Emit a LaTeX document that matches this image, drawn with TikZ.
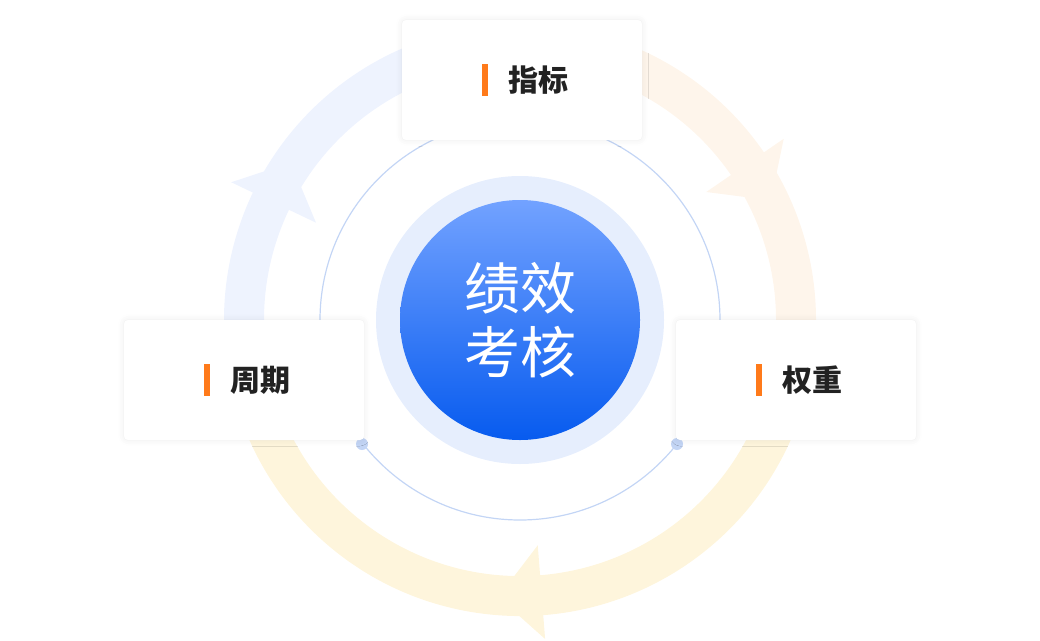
\documentclass[tikz,border=0pt]{standalone}
\usepackage{fontspec}
\setmainfont{Noto Sans CJK SC}
\usetikzlibrary{shadows.blur}
\definecolor{ringblue}{HTML}{EEF3FE}
\definecolor{ringorange}{HTML}{FEF5EB}
\definecolor{ringyellow}{HTML}{FEF5DC}
\definecolor{thinring}{HTML}{C3D5F5}
\definecolor{halo}{HTML}{E6EEFD}
\definecolor{topblue}{HTML}{72A2FF}
\definecolor{botblue}{HTML}{075BEF}
\definecolor{barorange}{HTML}{FF7A1A}
\definecolor{labeltext}{HTML}{222222}
\tikzset{
  labelbox/.style={draw=none, fill=white, rounded corners=4pt, minimum width=240pt, minimum height=120pt,
    blur shadow={shadow xshift=0pt, shadow yshift=0pt, shadow blur radius=6pt, shadow opacity=8}},
  labeltxt/.style={font=\bfseries\fontsize{30pt}{32pt}\selectfont, text=labeltext, inner sep=0pt, anchor=west},
  ringdot/.style={circle, fill=thinring, inner sep=0pt, minimum size=12pt},
}
\begin{document}
\begin{tikzpicture}[x=1pt,y=-1pt]
\useasboundingbox (0,0) rectangle (1040,640);

%l'anneau avec les fleches
\begin{scope}[shift={(520,320)}, yscale=-1]
\def \Rin {256};
\def \Rout {296};
\fill[ringblue] (190:\Rout) arc (190:90:\Rout) -- (90:\Rin) arc (90:190:\Rin) -- cycle;
\fill[ringorange] (90:\Rout) arc (90:-10:\Rout) -- (-10:\Rin) arc (-10:90:\Rin) -- cycle;
\fill[ringyellow] (-10:\Rout) arc (-10:-170:\Rout) -- (-170:\Rin) arc (-170:-10:\Rin) -- cycle;
\foreach \a/\c in {150/ringblue, 30/ringorange, 270/ringyellow}{
  \fill[\c] (\a+4.5:226) -- (\a+4.5:320) -- (\a-4.5:278) -- cycle;
}
\end{scope}

%le cercle fin
\node[circle, draw=thinring, line width=1.2pt, minimum size=400pt, inner sep=0pt] (ring) at (520,320) {};
\node[ringdot] (dotL) at (362,444) {};
\node[ringdot] (dotR) at (677,444) {};

%le centre
\node[circle, fill=halo, minimum size=288pt, inner sep=0pt] (halo) at (520,320) {};
\node[circle, top color=topblue, bottom color=botblue, minimum size=240pt, inner sep=0pt,
  text=white, align=center, font=\fontsize{56pt}{66pt}\selectfont] (core) at (520,320) {绩效\\[-2pt]考核};

%les boites
\node[labelbox] (top) at (522,80) {};
\node[labelbox] (left) at (244,380) {};
\node[labelbox] (right) at (796,380) {};

\foreach \b/\t in {top/指标, left/周期, right/权重}{
  \fill[barorange] ([xshift=-40pt,yshift=-16pt]\b.center) rectangle ([xshift=-34pt,yshift=16pt]\b.center);
  \node[labeltxt] (\b txt) at ([xshift=-14pt]\b.center) {\t};
}
\end{tikzpicture}
\end{document}
